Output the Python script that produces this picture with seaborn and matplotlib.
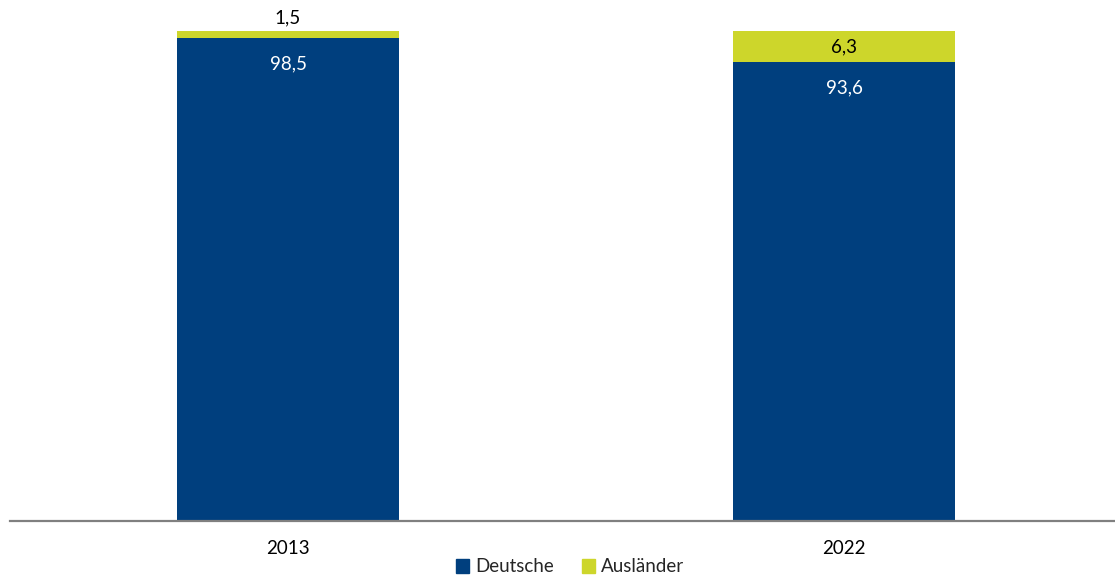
import matplotlib
matplotlib.use("Agg")
import matplotlib.pyplot as plt
from matplotlib.patches import Patch
import pandas as pd
import seaborn as sns

years = ["2013", "2022"]
deutsche = [98.5, 93.6]
auslaender = [1.5, 6.3]

blue = "#003f7e"
lime = "#cdd62b"

sns.set_theme(style="white")
plt.rcParams["font.family"] = ["Lato", "DejaVu Sans"]

df = pd.DataFrame({"Jahr": years, "Deutsche": deutsche, "Ausländer": auslaender})
df["Gesamt"] = df["Deutsche"] + df["Ausländer"]

fig = plt.figure(figsize=(11.15, 5.75), dpi=100)
ax = fig.add_axes([10 / 1115, 54 / 575, 1105 / 1115, 521 / 575])

sns.barplot(data=df, x="Jahr", y="Gesamt", color=lime, width=0.4, saturation=1,
            linewidth=0, ax=ax)
sns.barplot(data=df, x="Jahr", y="Deutsche", color=blue, width=0.4, saturation=1,
            linewidth=0, ax=ax)

ax.set_xlim(-0.5, 1.487)
ax.set_ylim(0, 106.3)
ax.set_xlabel("")
ax.set_ylabel("")
ax.set_yticks([])
ax.tick_params(axis="x", length=0, pad=14, labelsize=13.5, colors="black")
for s in ["top", "right", "left"]:
    ax.spines[s].set_visible(False)
ax.spines["bottom"].set_color("#808080")
ax.spines["bottom"].set_linewidth(1.6)

for i, (d, a) in enumerate(zip(deutsche, auslaender)):
    ax.text(i, d - 5.2, f"{d:.1f}".replace(".", ","), ha="center", va="center",
            color="white", fontsize=13.5)
    if a < 3:
        ax.text(i, d + a + 2.7, f"{a:.1f}".replace(".", ","), ha="center", va="center",
                color="black", fontsize=13.5)
    else:
        ax.text(i, d + a / 2, f"{a:.1f}".replace(".", ","), ha="center", va="center",
                color="black", fontsize=13.5)

handles = [Patch(color=blue, label="Deutsche"), Patch(color=lime, label="Ausländer")]
fig.legend(handles=handles, loc="center", bbox_to_anchor=(570 / 1115, 1 - 567 / 575),
           ncol=2, frameon=False, fontsize=13.5, handlelength=0.7, handleheight=0.7,
           handletextpad=0.3, columnspacing=1.5)

fig.savefig("out.png", dpi=100)
